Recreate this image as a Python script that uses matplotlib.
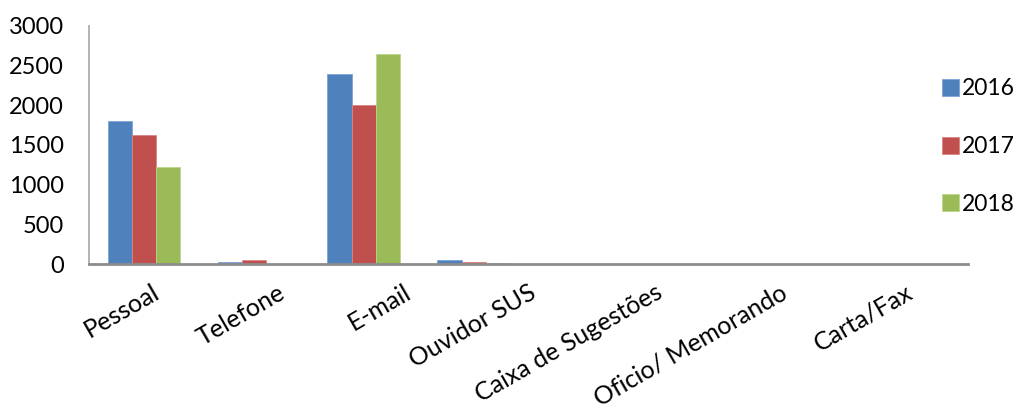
import matplotlib
matplotlib.use("Agg")
import matplotlib.pyplot as plt
import numpy as np

plt.rcParams['font.family'] = ['Lato', 'DejaVu Sans']

categories = ["Pessoal", "Telefone", "E-mail", "Ouvidor SUS",
              "Caixa de Sugestões", "Oficio/ Memorando", "Carta/Fax"]
years = ["2016", "2017", "2018"]
values_2016 = [1800, 30, 2390, 45, 0, 0, 0]
values_2017 = [1630, 45, 2000, 30, 0, 0, 0]
values_2018 = [1220, 5, 2650, 15, 0, 0, 0]
y_ticks = [0, 500, 1000, 1500, 2000, 2500, 3000]

colors = ["#4F81BD", "#C0504D", "#9BBB59"]
edges = ["#7EA3D6", "#D98583", "#BCD68A"]

fig = plt.figure(figsize=(10.17, 4.05), dpi=100)
ax = fig.add_axes([0.0875, 0.348, 0.8645, 0.588])

n_slots = 8  # the category axis reserves one empty slot at the end
x = np.arange(len(categories))
width = 0.22
series = [values_2016, values_2017, values_2018]
for i, (vals, yr) in enumerate(zip(series, years)):
    ax.bar(x + (i - 1) * width, vals, width, color=colors[i],
           edgecolor=edges[i], linewidth=0.6, label=yr, zorder=2)

ax.set_xlim(-0.5, n_slots - 0.5)
ax.set_ylim(0, 3000)
ax.set_yticks(y_ticks)
ax.set_yticklabels([str(v) for v in y_ticks])
ax.tick_params(axis='y', length=0, pad=18, labelsize=17)

# category labels spread evenly over the axis width
label_pos = [-0.5 + n_slots * (k + 0.5) / len(categories)
             for k in range(len(categories))]
ax.set_xticks(label_pos)
ax.set_xticklabels(categories, rotation=30, ha='right',
                   rotation_mode='anchor', fontsize=18)
ax.tick_params(axis='x', length=0, pad=12)

for side in ["top", "right"]:
    ax.spines[side].set_visible(False)
ax.spines["left"].set_color("#A6A6A6")
ax.spines["bottom"].set_color("#8C8C8C")
ax.spines["left"].set_linewidth(1.2)
ax.spines["bottom"].set_linewidth(2)

leg = fig.legend(loc='center left', bbox_to_anchor=(0.926, 0.638),
                 frameon=False, fontsize=16.5, labelspacing=1.6, borderpad=0,
                 borderaxespad=0,
                 handlelength=0.75, handleheight=0.75, handletextpad=0.15)

fig.savefig("out.png", dpi=100)
